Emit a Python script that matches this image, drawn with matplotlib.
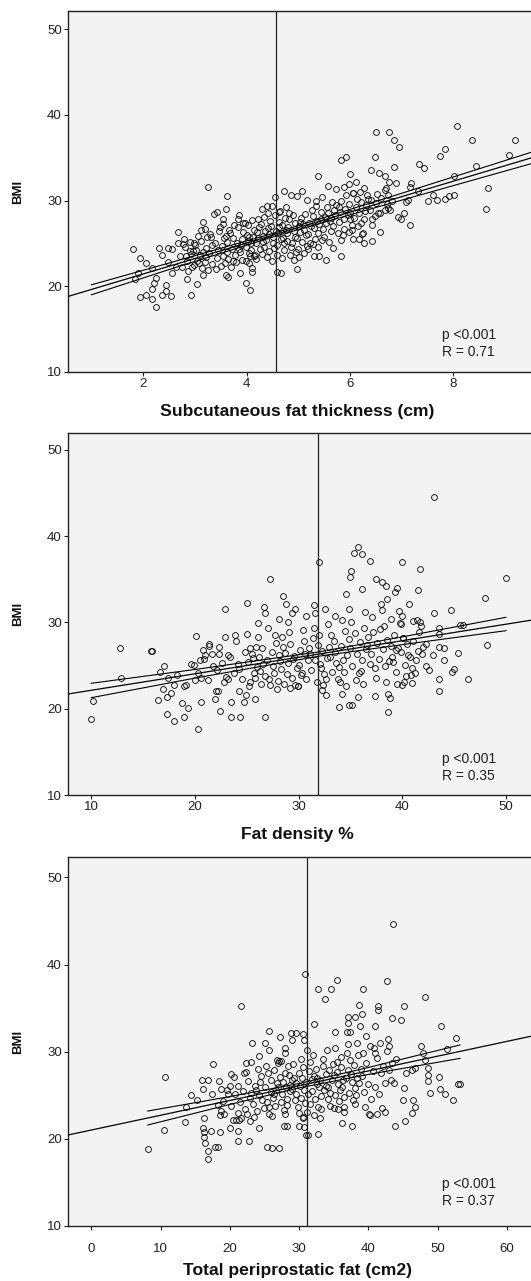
import numpy as np
import matplotlib
matplotlib.use("Agg")
import matplotlib.pyplot as plt

plt.rcParams['font.family'] = ['Liberation Sans', 'DejaVu Sans']

# ---- panel 1: subcutaneous fat thickness (cm) vs BMI ----
subcut_pts = [
    (1.80, 24.3), (1.93, 23.3), (2.06, 22.7), (1.90, 21.5), (1.85, 20.8), (1.94, 18.7), (2.06, 19.0),
    (2.16, 18.5), (2.25, 17.6), (2.16, 19.7), (2.21, 20.4), (2.25, 21.0), (2.16, 22.1), (2.30, 24.5),
    (2.36, 23.7), (2.47, 24.5), (2.56, 24.4), (2.45, 20.1), (2.45, 19.4), (2.37, 19.0), (2.54, 18.9),
    (2.55, 21.6), (2.48, 22.8), (2.67, 26.3), (2.63, 22.3), (2.85, 20.8), (2.93, 19.0), (3.04, 20.3),
    (2.76, 24.9), (2.82, 23.5), (2.90, 24.1), (2.98, 25.0), (3.08, 22.7), (3.15, 21.3), (3.16, 27.5),
    (3.19, 26.7), (3.25, 31.6), (3.37, 28.4), (3.42, 28.7), (3.62, 30.5), (3.60, 29.0), (3.55, 27.8),
    (3.64, 21.1), (3.61, 21.3), (3.86, 28.3), (3.94, 27.4), (3.99, 20.4), (4.06, 19.6), (4.10, 21.7),
    (3.87, 21.5), (4.05, 22.7), (4.10, 22.1), (4.04, 23.9), (4.15, 23.5), (4.30, 29.0), (4.39, 29.4),
    (4.49, 29.4), (4.55, 30.4), (4.59, 21.7), (4.67, 21.5), (4.72, 31.1), (4.86, 30.7), (4.97, 30.5),
    (5.08, 31.1), (4.98, 22.0), (4.77, 29.3), (4.63, 28.7), (5.38, 32.8), (5.17, 30.1), (5.35, 29.9),
    (5.46, 30.4), (5.54, 23.1), (5.41, 23.5), (5.31, 23.5), (5.68, 24.5), (5.82, 23.5), (5.58, 31.7),
    (5.73, 31.3), (5.82, 34.7), (5.93, 35.1), (6.01, 33.1), (5.89, 31.6), (5.99, 31.9), (6.12, 32.1),
    (6.28, 31.4), (6.05, 30.9), (6.41, 33.6), (6.48, 35.1), (6.51, 38.0), (6.56, 33.2), (6.67, 32.8),
    (6.76, 38.0), (6.86, 37.1), (6.94, 36.2), (6.86, 33.9), (6.89, 32.0), (6.76, 32.1), (6.70, 31.5),
    (6.73, 30.7), (6.92, 28.1), (7.05, 28.5), (6.98, 27.8), (7.17, 27.1), (7.08, 29.8), (7.16, 31.6),
    (7.18, 32.0), (7.13, 30.1), (7.34, 34.2), (7.43, 33.8), (7.32, 31.1), (7.51, 30.0), (7.61, 30.7),
    (7.69, 30.1), (7.75, 35.2), (7.84, 36.0), (7.83, 30.2), (7.91, 30.5), (8.01, 32.9), (8.02, 30.7),
    (8.07, 38.7), (8.36, 37.1), (8.43, 34.0), (8.67, 31.4), (8.64, 29.0), (9.08, 35.3), (9.20, 37.0),
    (6.43, 27.8), (6.43, 25.3), (6.26, 26.2), (6.59, 26.3), (6.54, 28.5), (6.34, 30.2), (6.22, 27.4),
    (6.03, 26.6), (6.06, 25.5), (6.17, 25.5), (6.27, 25.1), (5.82, 25.4), (6.01, 27.8), (6.67, 28.9),
    (6.74, 29.1),
    (2.72, 23.5), (2.68, 25.0), (2.75, 22.3), (2.81, 24.6), (2.84, 22.9), (2.79, 25.5), (2.86, 21.8),
    (2.93, 23.8), (2.90, 25.2), (2.95, 22.2), (2.97, 24.1), (3.01, 24.8), (3.04, 23.0), (2.99, 22.5),
    (3.06, 25.9), (3.03, 24.2), (3.12, 25.3), (3.09, 23.6), (3.14, 22.1), (3.11, 26.6), (3.16, 24.0),
    (3.22, 24.5), (3.19, 22.8), (3.24, 25.8), (3.21, 23.4), (3.26, 21.9), (3.31, 25.7), (3.28, 23.9),
    (3.34, 22.6), (3.33, 24.8), (3.29, 26.1), (3.42, 23.3), (3.38, 25.1), (3.44, 24.2), (3.41, 22.0),
    (3.46, 26.4), (3.52, 24.7), (3.49, 26.9), (3.55, 23.5), (3.51, 22.4), (3.57, 25.6), (3.54, 27.3),
    (3.61, 25.9), (3.63, 24.0), (3.59, 22.7), (3.66, 26.6), (3.64, 23.2), (3.62, 25.2), (3.71, 24.4),
    (3.68, 26.2), (3.73, 23.0), (3.76, 27.1), (3.74, 25.6), (3.69, 22.3), (3.81, 25.0), (3.78, 23.6),
    (3.83, 26.9), (3.86, 24.4), (3.79, 22.8), (3.84, 27.8), (3.91, 25.5), (3.88, 24.0), (3.94, 26.3),
    (3.92, 23.1), (3.96, 27.4), (3.89, 24.8), (4.01, 26.0), (3.98, 24.6), (4.03, 25.3), (4.06, 23.5),
    (4.02, 27.2), (3.99, 22.9), (4.05, 25.8), (4.12, 25.7), (4.09, 24.2), (4.14, 26.6), (4.11, 27.7),
    (4.16, 23.6), (4.08, 25.1), (4.21, 26.3), (4.18, 25.0), (4.23, 27.9), (4.26, 24.3), (4.19, 23.2),
    (4.24, 26.9), (4.22, 25.6), (4.31, 25.9), (4.28, 27.3), (4.33, 24.6), (4.36, 26.5), (4.29, 23.8),
    (4.34, 28.1), (4.32, 25.2), (4.41, 26.8), (4.38, 25.4), (4.43, 24.1), (4.46, 27.6), (4.39, 23.4),
    (4.44, 26.1), (4.42, 28.6), (4.51, 25.8), (4.48, 27.0), (4.53, 24.5), (4.56, 26.4), (4.49, 23.0),
    (4.54, 28.3), (4.52, 25.1), (4.61, 26.2), (4.58, 24.8), (4.63, 27.5), (4.66, 25.5), (4.59, 23.7),
    (4.64, 28.8), (4.62, 26.9), (4.71, 25.6), (4.68, 27.2), (4.73, 24.2), (4.76, 26.6), (4.69, 23.3),
    (4.74, 28.0), (4.72, 25.0), (4.81, 26.9), (4.78, 25.3), (4.83, 27.9), (4.86, 24.6), (4.79, 26.2),
    (4.84, 23.6), (4.82, 28.6), (4.91, 26.4), (4.88, 25.0), (4.93, 27.4), (4.96, 24.0), (4.89, 28.3),
    (4.94, 25.8), (4.92, 23.1), (5.01, 27.0), (4.98, 25.6), (5.03, 26.3), (5.06, 28.0), (4.99, 24.4),
    (5.04, 27.5), (5.02, 23.4), (5.11, 26.6), (5.08, 25.2), (5.13, 28.4), (5.16, 24.7), (5.09, 27.3),
    (5.14, 26.0), (5.12, 23.9), (5.21, 27.4), (5.18, 26.1), (5.23, 25.0), (5.26, 28.9), (5.19, 24.3),
    (5.24, 27.0), (5.31, 26.8), (5.28, 28.2), (5.33, 25.5), (5.36, 27.6), (5.29, 24.9), (5.34, 29.4),
    (5.41, 27.3), (5.38, 26.2), (5.43, 28.7), (5.46, 25.4), (5.39, 24.6), (5.44, 27.9), (5.51, 28.1),
    (5.48, 26.7), (5.53, 27.4), (5.56, 29.2), (5.49, 25.8), (5.61, 27.6), (5.58, 28.6), (5.63, 26.4),
    (5.66, 29.8), (5.59, 25.2), (5.64, 28.0), (5.71, 28.3), (5.68, 27.0), (5.73, 29.5), (5.76, 26.2),
    (5.69, 28.9), (5.81, 28.7), (5.78, 27.5), (5.83, 30.0), (5.86, 26.0), (5.79, 29.2), (5.91, 29.0),
    (5.88, 27.8), (5.93, 30.6), (5.96, 28.3), (5.89, 26.7), (6.01, 28.6), (5.98, 29.6), (6.03, 27.2),
    (6.06, 30.9), (5.99, 26.3), (6.11, 29.3), (6.08, 28.0), (6.13, 30.2), (6.16, 27.0), (6.21, 29.8),
    (6.18, 28.5), (6.23, 26.1), (6.19, 31.0), (6.31, 29.5), (6.28, 27.8), (6.33, 30.7), (6.29, 28.8),
    (6.41, 30.1), (6.38, 28.9), (6.43, 27.2), (6.51, 29.7), (6.48, 28.2), (6.53, 30.8), (6.61, 30.3),
    (6.58, 28.6), (6.71, 29.6), (6.68, 31.2), (6.81, 30.0), (6.78, 28.9),
]

# ---- panel 2: fat density % vs BMI ----
density_pts = [
    (10.0, 18.8), (10.16, 20.9), (12.82, 27.0), (12.92, 23.6), (15.73, 26.7), (15.90, 26.7), (16.6, 24.3),
    (17.05, 25.0), (16.9, 22.3), (16.48, 21.0), (17.29, 21.4), (17.74, 21.8), (17.35, 19.4), (17.94, 18.6),
    (17.42, 23.6), (18.23, 23.9), (17.94, 22.8), (18.71, 20.7), (18.97, 22.6), (19.13, 22.7), (18.94, 19.0),
    (19.30, 20.1), (20.07, 28.4), (19.94, 25.1), (20.0, 23.3), (20.30, 17.6), (20.49, 25.6), (20.59, 20.8),
    (20.75, 26.8), (21.40, 27.3), (21.62, 26.4), (21.92, 21.1), (22.05, 22.1), (22.2, 22.1), (22.41, 19.7),
    (22.86, 31.6), (22.86, 28.3), (22.37, 27.2), (23.18, 26.2), (23.18, 23.5), (23.44, 20.8), (23.44, 19.0),
    (23.83, 28.6), (24.32, 19.0), (24.22, 22.1), (24.70, 20.8), (25.03, 32.3), (25.03, 28.7), (25.29, 27.0),
    (24.96, 21.6), (25.80, 21.1), (26.74, 19.0), (26.71, 31.8), (26.74, 31.1), (27.29, 35.0), (26.1, 29.9),
    (27.07, 29.4), (28.54, 33.1), (28.8, 32.1), (29.02, 30.0), (29.66, 31.6), (29.40, 31.1), (28.11, 30.4),
    (29.98, 22.6), (29.66, 22.7), (29.21, 22.4), (30.73, 30.7), (31.44, 32.0), (31.54, 31.1), (31.99, 37.0),
    (32.57, 31.6), (32.67, 21.6), (32.25, 22.2), (33.55, 30.7), (33.93, 20.2), (34.20, 21.7), (34.62, 33.3),
    (34.84, 31.6), (34.94, 35.3), (35.05, 36.0), (34.84, 20.4), (35.13, 20.4), (35.33, 38.0), (35.72, 38.7),
    (36.14, 37.9), (36.14, 33.9), (35.75, 21.4), (36.88, 37.1), (37.43, 35.0), (37.37, 21.5), (37.92, 32.1),
    (38.08, 34.7), (38.41, 34.2), (38.57, 32.7), (38.63, 21.7), (38.79, 21.3), (38.66, 19.6), (39.31, 33.5),
    (39.54, 34.0), (40.02, 37.0), (40.61, 32.1), (41.0, 30.2), (41.42, 30.3), (41.55, 33.8), (41.74, 36.2),
    (41.81, 29.6), (40.93, 23.0), (40.83, 23.9), (42.62, 24.5), (43.10, 31.1), (43.10, 44.5), (43.52, 29.4),
    (43.52, 28.7), (43.52, 23.4), (43.52, 22.0), (43.52, 27.1), (44.0, 27.0), (44.06, 25.7), (44.71, 31.5),
    (44.81, 24.3), (44.97, 24.6), (45.36, 26.5), (45.58, 29.7), (45.9, 29.7), (46.34, 23.4), (47.96, 32.8),
    (48.19, 27.4), (50.0, 35.1), (42.94, 26.2), (42.3, 27.5), (41.49, 26.7), (40.93, 24.7), (40.12, 23.1),
    (39.93, 22.7), (40.51, 26.2), (39.86, 29.8), (39.64, 31.3), (38.96, 30.4), (39.44, 26.8), (40.09, 28.2),
    (22.1, 24.5), (22.6, 25.3), (23.0, 23.7), (23.4, 26.0), (23.8, 24.1), (24.0, 27.9), (24.2, 25.2),
    (24.5, 23.4), (24.8, 26.6), (24.3, 24.6), (25.1, 25.4), (25.3, 23.1), (25.5, 26.3), (25.7, 24.2),
    (25.9, 27.2), (25.2, 22.6), (25.6, 25.9), (25.8, 23.6), (26.0, 24.8), (26.2, 26.0), (26.4, 22.9),
    (26.1, 28.3), (26.6, 25.2), (26.8, 23.8), (26.5, 27.0), (26.3, 24.4), (27.0, 25.6), (27.2, 22.8),
    (27.4, 26.6), (27.6, 24.1), (27.8, 27.6), (27.1, 23.5), (27.5, 25.0), (27.7, 28.5), (27.9, 22.3),
    (28.1, 26.2), (28.3, 24.6), (28.5, 27.1), (28.0, 23.2), (28.2, 25.5), (28.7, 26.5), (28.4, 28.3),
    (28.9, 24.0), (28.6, 22.9), (29.0, 25.3), (29.2, 27.5), (29.4, 23.6), (29.6, 26.1), (29.8, 24.7),
    (29.1, 28.9), (29.5, 25.8), (29.9, 22.6), (30.1, 26.8), (30.3, 24.2), (30.5, 27.8), (30.0, 25.1),
    (30.7, 23.4), (30.4, 29.1), (30.9, 25.7), (30.6, 26.4), (30.2, 23.9), (31.0, 27.0), (31.2, 24.5),
    (31.4, 28.2), (31.6, 25.6), (31.8, 23.1), (31.1, 26.3), (31.5, 29.4), (31.9, 27.4), (32.1, 25.2),
    (32.3, 26.7), (32.5, 24.0), (32.0, 28.6), (32.7, 25.9), (32.4, 22.8), (32.9, 27.2), (32.2, 24.7),
    (32.6, 23.5), (32.8, 29.8), (33.0, 26.0), (33.2, 24.3), (33.4, 27.9), (33.6, 25.3), (33.8, 23.5),
    (33.1, 28.6), (33.5, 26.6), (33.9, 24.8), (34.1, 27.3), (34.3, 25.6), (34.5, 29.0), (34.0, 23.1),
    (34.7, 26.2), (34.4, 24.3), (34.9, 28.1), (34.2, 30.3), (34.6, 22.6), (35.0, 27.0), (35.2, 25.0),
    (35.4, 28.8), (35.6, 26.4), (35.8, 24.1), (35.1, 30.1), (35.5, 23.3), (35.9, 27.7), (36.1, 25.7),
    (36.3, 29.4), (36.5, 26.9), (36.0, 24.4), (36.7, 28.3), (36.4, 31.2), (36.9, 25.2), (36.2, 22.9),
    (36.6, 27.4), (37.0, 26.3), (37.2, 28.9), (37.4, 24.7), (37.6, 27.6), (37.8, 25.8), (37.1, 30.6),
    (37.5, 23.6), (37.9, 29.3), (38.1, 26.9), (38.3, 24.9), (38.5, 28.0), (38.0, 31.5), (38.7, 25.5),
    (38.4, 23.1), (38.9, 27.3), (38.2, 29.6), (39.0, 26.0), (39.2, 28.5), (39.4, 24.3), (39.6, 27.0),
    (39.8, 29.9), (39.1, 25.4), (39.5, 22.9), (39.9, 26.6), (40.1, 28.2), (40.3, 25.1), (40.5, 27.5),
    (40.0, 30.8), (40.7, 26.0), (40.4, 23.8), (41.0, 27.8), (41.3, 25.6), (41.6, 28.9), (41.9, 26.3),
    (41.2, 24.2), (41.7, 30.0), (42.0, 27.1), (42.3, 25.0), (19.6, 25.2), (20.3, 24.1), (20.9, 25.8),
    (21.3, 23.3), (21.7, 24.9), (21.4, 27.5), (22.3, 26.4), (22.8, 23.1), (20.6, 23.6), (21.0, 26.2),
]

# ---- panel 3: total periprostatic fat (cm2) vs BMI ----
peri_pts = [
    (8.14, 18.8), (10.42, 21.0), (10.57, 27.1), (13.47, 21.9), (13.62, 23.7), (14.35, 25.0), (15.17, 24.5),
    (15.95, 26.8), (16.77, 26.8), (16.14, 25.7), (16.28, 22.4), (16.04, 21.2), (16.19, 20.8), (16.28, 20.2),
    (16.43, 19.5), (16.87, 18.6), (16.87, 17.7), (17.25, 20.9), (17.50, 28.6), (17.35, 25.2), (17.88, 19.1),
    (18.32, 19.1), (18.22, 23.9), (18.46, 26.6), (18.56, 20.8), (18.56, 22.7), (18.71, 25.7), (19.10, 22.9),
    (19.68, 25.2), (20.16, 27.4), (20.06, 21.2), (20.40, 22.2), (20.89, 22.2), (21.23, 20.9), (21.23, 19.8),
    (21.18, 26.1), (20.65, 27.1), (21.62, 35.2), (21.37, 22.2), (22.73, 19.7), (22.83, 22.1), (22.25, 27.7),
    (22.25, 28.7), (22.97, 28.8), (23.22, 31.0), (24.23, 29.5), (24.14, 21.2), (25.01, 31.0), (25.64, 32.4),
    (25.64, 30.2), (25.40, 19.1), (26.07, 19.0), (27.04, 19.0), (27.19, 31.7), (26.75, 29.1), (27.33, 28.9),
    (28.01, 30.4), (28.01, 29.9), (27.82, 21.5), (28.30, 21.5), (28.79, 32.1), (29.52, 32.1), (28.89, 31.3),
    (30.58, 32.0), (30.82, 38.9), (30.73, 31.3), (31.07, 30.2), (30.0, 21.5), (30.48, 22.4), (30.73, 21.4),
    (30.92, 20.4), (31.21, 20.4), (32.18, 33.2), (32.76, 37.2), (32.76, 20.6), (33.01, 22.4), (33.73, 36.0),
    (34.61, 37.2), (35.43, 38.2), (35.19, 32.2), (36.88, 32.2), (37.27, 32.2), (37.12, 33.3), (38.0, 34.0),
    (37.12, 34.0), (38.58, 35.4), (39.06, 34.3), (39.16, 37.2), (38.72, 32.9), (39.69, 31.8), (40.91, 32.9),
    (41.39, 35.2), (41.39, 34.8), (42.70, 38.1), (42.80, 31.5), (43.43, 33.9), (43.53, 44.7), (44.73, 33.6),
    (45.12, 35.2), (48.13, 36.3), (50.45, 32.9), (51.28, 30.3), (52.63, 31.6), (47.58, 30.6), (47.92, 29.8),
    (48.16, 29.1), (48.55, 28.1), (48.64, 27.3), (48.55, 26.6), (48.94, 25.3), (50.15, 27.1), (50.35, 25.7),
    (51.09, 25.2), (52.25, 24.4), (52.88, 26.3), (53.22, 26.3), (46.72, 28.1), (46.24, 27.9), (46.43, 24.5),
    (46.72, 23.6), (46.24, 23.0), (45.03, 24.4), (45.12, 25.8), (45.36, 27.6), (45.26, 22.1), (43.82, 21.5),
    (41.98, 23.5), (42.46, 23.1), (41.25, 22.9), (40.03, 22.9), (40.28, 22.7), (37.61, 21.5), (36.16, 21.8),
    (36.40, 23.1), (35.67, 23.4), (35.04, 23.5), (42.46, 26.4), (43.28, 26.8), (43.67, 26.4), (42.94, 27.9),
    (43.43, 28.7), (43.91, 29.2), (42.70, 30.1), (43.04, 30.6), (41.73, 31.0), (41.0, 29.8), (40.28, 30.6),
    (21.4, 24.2), (21.9, 25.5), (22.2, 23.4), (22.6, 26.6), (22.9, 24.7), (22.1, 27.6), (22.5, 22.9),
    (23.0, 25.3), (23.3, 24.0), (23.6, 26.1), (23.9, 23.2), (24.2, 25.0), (24.5, 27.2), (23.5, 22.5),
    (24.0, 28.0), (24.7, 24.4), (24.4, 26.5), (24.9, 23.5), (23.8, 25.6), (25.1, 26.0), (25.3, 24.2),
    (25.5, 27.5), (25.7, 22.9), (25.9, 25.4), (25.2, 28.3), (25.6, 23.6), (26.0, 26.8), (26.2, 24.7),
    (26.4, 27.9), (26.6, 25.6), (26.1, 22.6), (26.8, 26.4), (26.5, 23.8), (26.9, 28.7), (26.3, 25.1),
    (27.0, 25.9), (27.2, 27.1), (27.4, 24.2), (27.6, 26.5), (27.8, 23.3), (27.1, 28.9), (27.5, 25.2),
    (27.9, 27.6), (28.1, 26.0), (28.3, 24.6), (28.5, 27.3), (28.0, 22.8), (28.7, 25.5), (28.4, 28.4),
    (28.9, 26.7), (28.2, 23.9), (28.6, 26.2), (29.0, 25.7), (29.2, 27.0), (29.4, 24.4), (29.6, 26.4),
    (29.8, 23.6), (29.1, 28.6), (29.5, 25.1), (29.9, 27.5), (30.1, 26.1), (30.3, 24.7), (30.5, 28.2),
    (30.0, 23.0), (30.7, 25.6), (30.4, 27.0), (30.9, 24.1), (30.2, 29.2), (30.6, 22.5), (31.0, 26.5),
    (31.2, 25.2), (31.4, 27.8), (31.6, 24.0), (31.8, 26.9), (31.1, 23.1), (31.5, 28.8), (31.9, 25.5),
    (32.1, 27.2), (32.3, 24.6), (32.5, 26.3), (32.0, 29.6), (32.7, 23.7), (32.4, 28.0), (32.9, 25.9),
    (32.2, 22.7), (32.6, 27.0), (33.0, 26.8), (33.2, 24.9), (33.4, 28.4), (33.6, 25.6), (33.8, 27.4),
    (33.1, 23.4), (33.5, 29.2), (33.9, 26.1), (34.1, 24.6), (34.3, 27.9), (34.5, 25.3), (34.0, 30.2),
    (34.7, 26.8), (34.4, 23.8), (34.9, 28.6), (34.2, 26.0), (35.0, 27.3), (35.2, 25.0), (35.4, 28.8),
    (35.6, 26.3), (35.8, 24.3), (35.1, 30.4), (35.5, 27.7), (35.9, 25.6), (36.1, 29.4), (36.3, 26.7),
    (36.5, 24.8), (36.0, 28.2), (36.7, 27.0), (36.4, 23.6), (36.9, 29.8), (36.2, 25.9), (37.0, 27.9),
    (37.2, 25.3), (37.4, 29.0), (37.6, 26.5), (37.8, 24.5), (37.1, 30.9), (37.5, 27.4), (37.9, 28.5),
    (38.1, 25.8), (38.3, 27.0), (38.5, 29.6), (38.0, 24.0), (38.7, 26.4), (38.4, 31.0), (38.9, 28.0),
    (38.2, 25.0), (39.1, 27.2), (39.4, 25.4), (39.7, 28.7), (40.0, 26.3), (40.3, 24.6), (39.2, 29.9),
    (40.6, 27.8), (40.9, 26.0), (41.2, 29.3), (41.5, 25.2), (41.8, 27.5), (42.1, 28.4), (39.5, 23.7),
    (40.8, 30.4), (19.0, 24.3), (19.6, 25.6), (20.2, 23.8), (20.7, 25.1), (21.1, 23.0), (20.0, 26.1),
    (18.7, 23.2), (21.6, 22.4),
]

# regression line (two points) and 95% CI band
fit1 = [(0.55, 18.82), (9.38, 34.74)]
band1_x = [1.0, 2.5, 4.6, 7.0, 9.6]
band1_hi = [20.17, 22.71, 26.32, 30.84, 35.80]
band1_lo = [19.01, 21.95, 25.92, 30.04, 34.45]

fit2 = [(7.76, 21.71), (51.94, 30.17)]
band2_x = [10, 20, 32, 40, 50]
band2_hi = [22.95, 24.55, 26.60, 28.33, 30.60]
band2_lo = [21.28, 23.55, 26.10, 27.43, 29.05]

fit3 = [(-3.39, 20.44), (62.71, 31.64)]
band3_x = [8.14, 20, 30, 40, 53.22]
band3_hi = [23.19, 24.85, 26.35, 28.19, 30.77]
band3_lo = [21.59, 23.95, 25.85, 27.39, 29.23]

mean_x = [4.56, 31.87, 31.1]
xlabels = ["Subcutaneous fat thickness (cm)", "Fat density %", "Total periprostatic fat (cm2)"]
xticks = [[2, 4, 6, 8], [10, 20, 30, 40, 50], [0, 10, 20, 30, 40, 50, 60]]
xlims = [(0.544, 9.6), (7.76, 52.9), (-3.39, 64.2)]
ylims = [(10, 52.1), (10, 52.0), (10, 52.3)]
r_values = ["0.71", "0.35", "0.37"]

W, H = 531, 1281
fig = plt.figure(figsize=(W / 100, H / 100), dpi=100)

# axes boxes in pixels: (top, bottom)
boxes = [(11, 372), (432.7, 795), (857.3, 1226)]
left_px, right_px = 68, 536
tick_pad = [1.5, 1.5, 9.0]
xlabel_y = [-0.090, -0.087, -0.100]
note_y = [0.037, 0.034, 0.05]

panels = [
    (subcut_pts, fit1, band1_x, band1_hi, band1_lo),
    (density_pts, fit2, band2_x, band2_hi, band2_lo),
    (peri_pts, fit3, band3_x, band3_hi, band3_lo),
]

for i, (pts, fit, bx, bhi, blo) in enumerate(panels):
    top, bot = boxes[i]
    ax = fig.add_axes([left_px / W, 1 - bot / H, (right_px - left_px) / W, (bot - top) / H])
    ax.set_facecolor("#f3f3f3")
    xs, ys = np.array(pts).T

    ax.plot(xs, ys, "o", mfc="none", mec="#111111", ms=4.2, mew=0.65, zorder=3)
    ax.axline(fit[0], fit[1], color="black", lw=0.9, zorder=4)
    ax.plot(bx, bhi, color="black", lw=0.8, zorder=4)
    ax.plot(bx, blo, color="black", lw=0.8, zorder=4)
    ax.axvline(mean_x[i], color="#222222", lw=0.9, zorder=4)

    ax.set_xlim(*xlims[i])
    ax.set_ylim(*ylims[i])
    ax.set_xticks(xticks[i])
    ax.set_yticks([10, 20, 30, 40, 50])
    ax.tick_params(direction="out", length=3, width=0.8, labelsize=9.5,
                   colors="#222222", pad=1.5)
    ax.tick_params(axis="x", pad=tick_pad[i])
    for side in ["left", "bottom", "top", "right"]:
        ax.spines[side].set_linewidth(1.0)
        ax.spines[side].set_color("#222222")

    ax.set_xlabel(xlabels[i], fontsize=12.6, fontweight="bold", color="#111111")
    ax.xaxis.set_label_coords(0.49, xlabel_y[i])
    ax.set_ylabel("BMI", fontsize=9.5, fontweight="bold", color="#111111")
    ax.yaxis.set_label_coords(-0.094, 0.5)

    ax.text(0.80, note_y[i], "p <0.001\nR = " + r_values[i], transform=ax.transAxes,
            fontsize=10, color="#222222", ha="left", va="bottom", linespacing=1.2)

fig.savefig("out.png", dpi=100, facecolor="white")
